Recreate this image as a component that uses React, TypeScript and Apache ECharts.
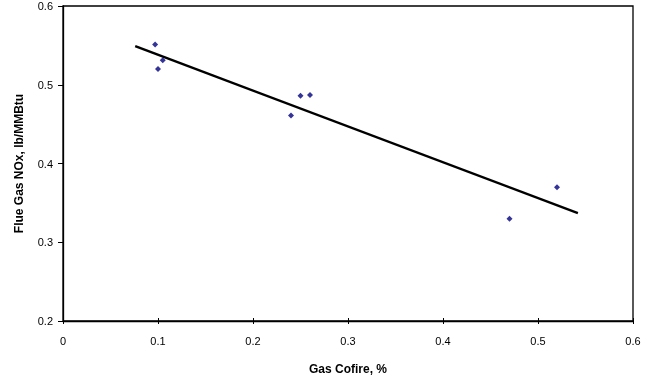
import React, { useEffect, useRef } from "react";
import * as echarts from "echarts";

const cofire = [0.097, 0.1, 0.105, 0.24, 0.25, 0.26, 0.47, 0.52];
const nox = [0.551, 0.52, 0.531, 0.461, 0.486, 0.487, 0.33, 0.37];
const trendX = [0.076, 0.542];
const trendY = [0.549, 0.337];
const xTicks = [0, 0.1, 0.2, 0.3, 0.4, 0.5, 0.6];
const yTicks = [0.2, 0.3, 0.4, 0.5, 0.6];

export default function App() {
  const ref = useRef<HTMLDivElement>(null);
  useEffect(() => {
    if (!ref.current) return;
    const chart = echarts.init(ref.current, null, { renderer: "svg" });
    const font = "'Liberation Sans', Arial, sans-serif";
    chart.setOption({
      animation: false,
      textStyle: { fontFamily: font },
      grid: {
        left: 63,
        right: 20,
        top: 6,
        bottom: 62,
        show: true,
        borderColor: "#000",
        borderWidth: 1.3,
        backgroundColor: "transparent",
      },
      xAxis: [
        {
          type: "value",
          min: xTicks[0],
          max: xTicks[xTicks.length - 1],
          interval: 0.1,
          name: "Gas Cofire, %",
          nameLocation: "middle",
          nameGap: 42,
          nameTextStyle: { fontFamily: font, fontSize: 12, fontWeight: "bold", color: "#000" },
          axisLine: { show: true, lineStyle: { color: "#000", width: 1.3 } },
          axisTick: { show: true, inside: false, length: 3, lineStyle: { color: "#000" } },
          axisLabel: {
            fontFamily: font,
            fontSize: 11,
            color: "#000",
            margin: 14,
            formatter: (v: number) => String(Math.round(v * 10) / 10),
          },
          splitLine: { show: false },
        },
        {
          type: "value",
          position: "bottom",
          min: xTicks[0],
          max: xTicks[xTicks.length - 1],
          interval: 0.1,
          axisLine: { show: false },
          axisTick: { show: true, inside: true, length: 3, lineStyle: { color: "#000" } },
          axisLabel: { show: false },
          splitLine: { show: false },
        },
      ],
      yAxis: {
        type: "value",
        min: yTicks[0],
        max: yTicks[yTicks.length - 1],
        interval: 0.1,
        name: "Flue Gas NOx, lb/MMBtu",
        nameLocation: "middle",
        nameGap: 38,
        nameTextStyle: { fontFamily: font, fontSize: 12, fontWeight: "bold", color: "#000" },
        axisLine: { show: true, lineStyle: { color: "#000", width: 1.3 } },
        axisTick: { show: true, inside: false, length: 5, lineStyle: { color: "#000" } },
        axisLabel: {
          fontFamily: font,
          fontSize: 11,
          color: "#000",
          margin: 10,
          formatter: (v: number) => String(Math.round(v * 10) / 10),
        },
        splitLine: { show: false },
      },
      series: [
        {
          type: "line",
          data: trendX.map((x, i) => [x, trendY[i]]),
          symbol: "none",
          lineStyle: { color: "#000", width: 2.5 },
          z: 2,
        },
        {
          type: "scatter",
          data: cofire.map((x, i) => [x, nox[i]]),
          symbol: "diamond",
          symbolSize: 6,
          itemStyle: { color: "#000080" },
          z: 3,
        },
      ],
    });
    return () => chart.dispose();
  }, []);
  return (
    <div
      ref={ref}
      style={{ position: "fixed", left: 0, top: 0, width: 653, height: 383 }}
    />
  );
}
